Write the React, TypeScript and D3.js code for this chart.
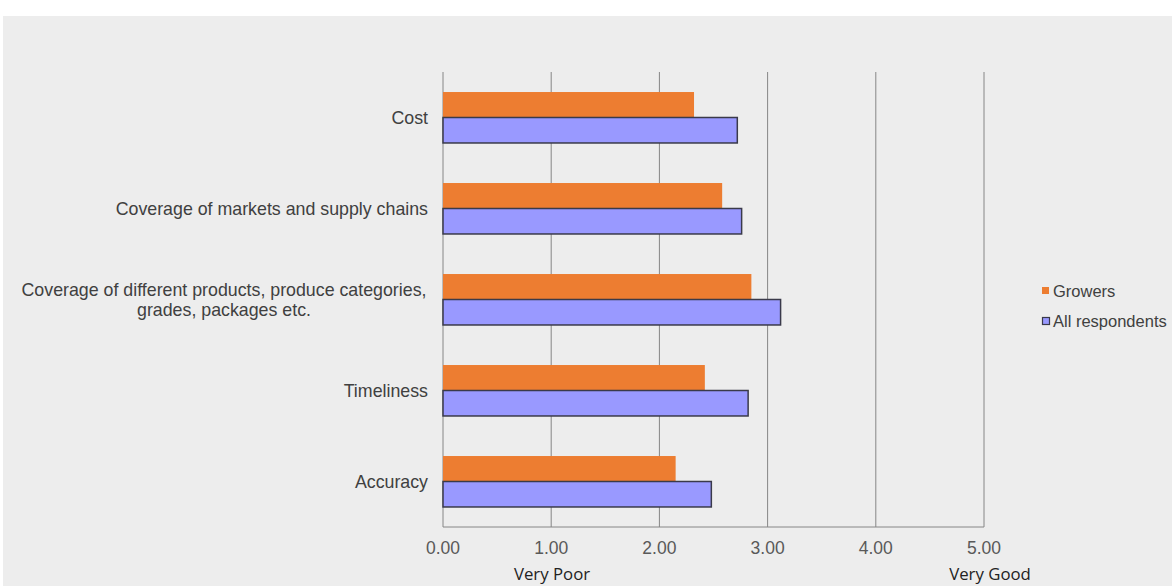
import React from "react";
import * as d3 from "d3";

const categories = [
  "Cost",
  "Coverage of markets and supply chains",
  "Coverage of different products, produce categories,|grades, packages etc.",
  "Timeliness",
  "Accuracy",
];
const growers = [2.32, 2.58, 2.85, 2.42, 2.15];
const allRespondents = [2.72, 2.76, 3.12, 2.82, 2.48];
const ticks = [0, 1, 2, 3, 4, 5];
const seriesNames = ["Growers", "All respondents"];

const W = 1172;
const H = 586;
const left = 443;
const right = 984;
const top = 72;
const bottom = 527;

export default function App() {
  const x = d3.scaleLinear().domain([0, 5]).range([left, right]);
  const y = d3.scaleBand().domain(categories).range([top, bottom]).paddingInner(0.44).paddingOuter(0.22);
  const bw = y.bandwidth() / 2;
  const font = "'Liberation Sans', Arial, sans-serif";
  const catSize = 17.8;

  return (
    <svg width={W} height={H} style={{ position: "absolute", left: 0, top: 0 }}>
      <rect x={0} y={0} width={W} height={H} fill="#fff" />
      <rect x={3} y={16} width={W - 3} height={H - 16} fill="#ededed" />
      {ticks.map((t) => (
        <g key={t}>
          <line x1={x(t)} x2={x(t)} y1={top} y2={bottom} stroke="#868686" strokeWidth={1} />
          <text x={x(t)} y={554} textAnchor="middle" fontFamily={font} fontSize={17.5} fill="#595959">
            {d3.format(".2f")(t)}
          </text>
        </g>
      ))}
      <line x1={left} x2={right} y1={bottom} y2={bottom} stroke="#868686" strokeWidth={1} />
      {categories.map((c, i) => {
        const y0 = y(c)!;
        return (
          <g key={c}>
            <rect x={x(0)} y={y0} width={x(growers[i]) - x(0)} height={bw} fill="#ed7d31" />
            <rect
              x={x(0)}
              y={y0 + bw}
              width={x(allRespondents[i]) - x(0)}
              height={bw}
              fill="#9999ff"
              stroke="#3a3a4a"
              strokeWidth={1.5}
            />
          </g>
        );
      })}
      {categories.map((c) => {
        const lines = c.split("|");
        const cy = y(c)! + y.bandwidth() / 2;
        if (lines.length === 1) {
          return (
            <text key={c} x={428} y={cy + 6} textAnchor="end" fontFamily={font} fontSize={catSize} fill="#404040">
              {c}
            </text>
          );
        }
        return (
          <text key={c} x={224} y={cy} textAnchor="middle" fontFamily={font} fontSize={catSize} fill="#404040">
            {lines.map((l, k) => (
              <tspan key={k} x={224} y={cy - 4 + k * 20}>
                {l}
              </tspan>
            ))}
          </text>
        );
      })}
      <text x={552} y={580} textAnchor="middle" fontFamily="'Open Sans', sans-serif" fontSize={16.8} fill="#222">
        Very Poor
      </text>
      <text x={990} y={580} textAnchor="middle" fontFamily="'Open Sans', sans-serif" fontSize={16.8} fill="#222">
        Very Good
      </text>
      <g fontFamily={font} fontSize={16.5} fill="#404040">
        <rect x={1042} y={287} width={7} height={7} fill="#ed7d31" />
        <text x={1053} y={297}>{seriesNames[0]}</text>
        <rect x={1042.5} y={317.5} width={7} height={7} fill="#9999ff" stroke="#3a3a4a" strokeWidth={1.2} />
        <text x={1053} y={327}>{seriesNames[1]}</text>
      </g>
    </svg>
  );
}
